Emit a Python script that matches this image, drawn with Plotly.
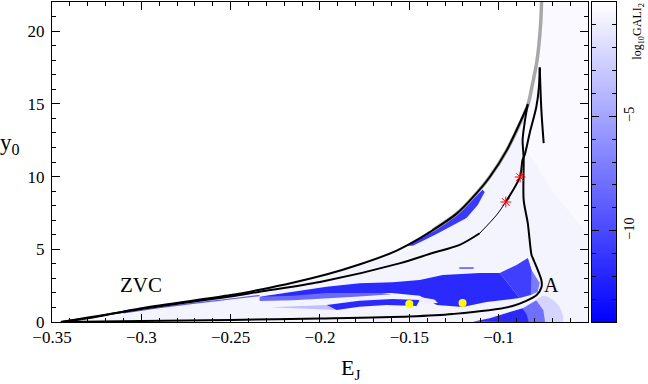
import plotly.graph_objects as go

# ZVC, black part then the grey part up to the top of the frame
zvc_E = [-0.345, -0.33, -0.30, -0.25, -0.2338, -0.2153, -0.196, -0.178, -0.159, -0.15, -0.137, -0.1235, -0.1146, -0.105, -0.0955, -0.0837]
zvc_y = [0.0, 0.25, 0.95, 1.85, 2.22, 2.7, 3.28, 3.95, 4.8, 5.35, 6.3, 7.45, 8.55, 9.97, 11.8, 14.9]
grey_E = [-0.137, -0.1235, -0.1146, -0.105, -0.0955, -0.0837, -0.0815, -0.0785, -0.0765, -0.076]
grey_y = [6.3, 7.45, 8.55, 9.97, 11.8, 14.9, 16.1, 18.0, 20.5, 22.0]

# family going out from the ZVC to the cusp
middle_E = [-0.345, -0.30, -0.25, -0.2338, -0.20, -0.155, -0.137, -0.1218, -0.1106]
middle_y = [0.0, 0.9, 1.75, 2.08, 2.75, 4.05, 4.74, 5.3, 6.1]
middle_thin_E = [-0.1106, -0.1012, -0.096]
middle_thin_y = [6.1, 7.35, 8.25]
upper_E = [-0.096, -0.088, -0.0867, -0.0854, -0.0826, -0.0789, -0.0775, -0.077]
upper_y = [8.25, 10.0, 11.1, 11.5, 13.0, 14.8, 16.1, 17.5]
tip_E = [-0.077, -0.0761, -0.0748]
tip_y = [17.5, 14.6, 12.3]

# long branch through A and back along the bottom
branch_E = [-0.0837, -0.0854, -0.0866, -0.086, -0.086, -0.0837, -0.0816, -0.0809, -0.0761, -0.076, -0.0787,
            -0.0922, -0.1258, -0.15, -0.20, -0.25, -0.30, -0.345]
branch_y = [15.0, 13.75, 12.5, 11.3, 8.4, 6.8, 4.6, 4.4, 2.89, 2.4, 1.86, 1.1, 0.55, 0.38, 0.24, 0.14, 0.07, 0.0]

star_E = [-0.096, -0.088]
star_y = [8.25, 9.97]
dot_E = [-0.15, -0.1202]
dot_y = [1.24, 1.3]

# GALI regions, outlines
pale_E = [-0.345, -0.30, -0.25, -0.196, -0.15, -0.1146, -0.105, -0.0955, -0.0837, -0.0785, -0.076, -0.05, -0.05]
pale_y = [0.0, 0.95, 1.85, 3.28, 5.35, 8.55, 9.97, 11.8, 14.9, 18.0, 22.0, 22.0, 0.0]
low_E = [-0.33, -0.25, -0.20, -0.15, -0.118, -0.105, -0.09, -0.07, -0.05, -0.05]
low_y = [0.0, 1.8, 3.0, 5.0, 7.5, 9.5, 13.0, 9.0, 6.0, 0.0]

main_E = [-0.2338, -0.2153, -0.1963, -0.1778, -0.1594, -0.1442, -0.1313, -0.1106, -0.0994, -0.0883, -0.1068, -0.1202,
          -0.1346, -0.1442, -0.16, -0.1778, -0.1963, -0.2153]
main_y = [1.74, 2.08, 2.43, 2.66, 2.73, 2.89, 3.23, 3.37, 3.37, 1.65, 1.37, 1.03, 1.17, 1.8, 2.0, 2.0, 2.0, 1.8]
speck_E = [-0.0994, -0.09, -0.0837, -0.0816, -0.082, -0.0883]
speck_y = [3.37, 3.92, 4.4, 3.57, 1.85, 1.65]
speck_edge_E = [-0.0837, -0.0816, -0.077, -0.0782, -0.082, -0.086]
speck_edge_y = [4.4, 3.57, 2.68, 2.06, 1.85, 3.0]
tail_E = [-0.2338, -0.2338, -0.215, -0.197, -0.178, -0.16, -0.178, -0.2153]
tail_y = [1.74, 1.45, 1.5, 1.6, 1.75, 1.9, 2.2, 2.0]
strip_E = [-0.1963, -0.178, -0.1594, -0.1442, -0.146, -0.1627, -0.178, -0.1907]
strip_y = [1.17, 1.46, 1.58, 1.51, 1.1, 1.17, 1.05, 0.82]
strip_tail_E = [-0.1963, -0.228, -0.1907]
strip_tail_y = [1.17, 1.02, 0.82]
gap_E = [-0.146, -0.136, -0.134, -0.143]
gap_y = [1.75, 1.55, 1.3, 1.25]
under_E = [-0.1146, -0.105, -0.0955, -0.0865, -0.0843, -0.083]
under_y = [0.02, 0.25, 0.62, 0.95, 0.5, 0.0]
under_mid_E = [-0.0865, -0.079, -0.075, -0.074, -0.083]
under_mid_y = [0.95, 1.5, 0.8, 0.0, 0.0]
under_light_E = [-0.079, -0.0743, -0.066, -0.0642, -0.074]
under_light_y = [1.5, 1.8, 1.05, 0.0, 0.0]
edge_E = [-0.1515, -0.137, -0.1235, -0.1146, -0.109, -0.1078, -0.1117, -0.118, -0.1275, -0.1347, -0.148]
edge_y = [5.25, 6.2, 7.35, 8.45, 9.1, 8.93, 8.04, 7.15, 6.53, 6.05, 5.25]
thin_E = [-0.31, -0.29, -0.27, -0.25, -0.2338]
thin_y = [0.62, 0.98, 1.3, 1.58, 1.82]
streak_E = [-0.122, -0.114]
streak_y = [3.71, 3.71]

x_ticks = [-0.35, -0.3, -0.25, -0.2, -0.15, -0.1]
y_ticks = [0, 5, 10, 15, 20]
bar_ticks = [0, -5, -10]
bar_z = [[-14, -14], [0, 0]]
bar_y = [-14, 0]

FONT = "Liberation Serif"
BLUES = [[0, "#0000ff"], [1, "#ffffff"]]


def region(x, y, color, shape="linear"):
    return go.Scatter(x=x, y=y, mode="lines", fill="toself", fillcolor=color,
                      line=dict(width=0, shape=shape), hoverinfo="skip", showlegend=False)


def curve(x, y, color="black", width=2):
    return go.Scatter(x=x, y=y, mode="lines", line=dict(color=color, width=width, shape="spline", smoothing=0.8),
                      hoverinfo="skip", showlegend=False)


def label(text, x, y, size, ref="x", angle=0):
    yref = "y" if ref == "x" else "paper"
    return dict(text=text, x=x, y=y, xref=ref, yref=yref, showarrow=False, textangle=angle,
                xanchor="center", yanchor="middle", font=dict(size=size))


fig = go.Figure()
fig.add_trace(region(pale_E, pale_y, "#f9f9ff"))
fig.add_trace(region(low_E, low_y, "#f4f4fe"))
fig.add_trace(region(under_light_E, under_light_y, "#d4d4fd", "spline"))
fig.add_trace(region(under_mid_E, under_mid_y, "#7070fd"))
fig.add_trace(region(under_E, under_y, "#2a2aff"))
fig.add_trace(region(speck_edge_E, speck_edge_y, "#7a7afc"))
fig.add_trace(region(speck_E, speck_y, "#3f3ffd"))
fig.add_trace(region(tail_E, tail_y, "#6a6afe"))
fig.add_trace(region(main_E, main_y, "#2a2aff"))
fig.add_trace(region(strip_tail_E, strip_tail_y, "#c0c0fd"))
fig.add_trace(region(strip_E, strip_y, "#2a2aff"))
fig.add_trace(region(gap_E, gap_y, "#eeeeff"))
fig.add_trace(region(edge_E, edge_y, "#3a3aff"))
fig.add_trace(curve(thin_E, thin_y, "#5a5aff", 1.2))
fig.add_trace(curve(streak_E, streak_y, "#2a2aff", 1.2))

fig.add_trace(curve(grey_E, grey_y, "#a8a8a8", 3.5))
fig.add_trace(curve(zvc_E, zvc_y))
fig.add_trace(curve(middle_E, middle_y))
fig.add_trace(curve(middle_thin_E, middle_thin_y, width=1))
fig.add_trace(curve(upper_E, upper_y))
fig.add_trace(curve(tip_E, tip_y))
fig.add_trace(curve(branch_E, branch_y))

fig.add_trace(go.Scatter(x=star_E, y=star_y, mode="markers", showlegend=False,
                         marker=dict(symbol="asterisk-open", size=9, color="#ff0000",
                                     line=dict(color="#ff0000", width=1))))
fig.add_trace(go.Scatter(x=dot_E, y=dot_y, mode="markers", showlegend=False,
                         marker=dict(symbol="circle", size=8, color="#ffff00")))

# colour bar drawn as its own little axes so it can have ticks on both sides
fig.add_trace(go.Heatmap(x=[0, 1], y=bar_y, z=bar_z, xaxis="x2", yaxis="y2", zsmooth="best",
                         colorscale=BLUES, zmin=-14, zmax=0, showscale=False, hoverinfo="skip"))

fig.update_layout(
    width=648,
    height=384,
    margin=dict(l=52, r=0, t=2, b=62),
    paper_bgcolor="white",
    plot_bgcolor="white",
    font=dict(family=FONT, size=17, color="black"),
    showlegend=False,
    xaxis=dict(
        domain=[0, 0.8993], range=[-0.35, -0.05], tickvals=x_ticks, ticks="inside", ticklen=8, tickwidth=1,
        tickcolor="black", showline=True, linecolor="black", linewidth=1, mirror="allticks", showgrid=False,
        zeroline=False, minor=dict(tickmode="linear", tick0=-0.35, dtick=0.01, ticks="inside", ticklen=4,
                                   tickwidth=1, tickcolor="black", showgrid=False),
    ),
    yaxis=dict(
        domain=[0, 1], range=[0, 22], tickvals=y_ticks, ticks="inside", ticklen=8, tickwidth=1, ticklabelstandoff=3,
        tickcolor="black", showline=True, linecolor="black", linewidth=1, mirror="allticks", showgrid=False,
        zeroline=False, minor=dict(tickmode="linear", tick0=0, dtick=1, ticks="inside", ticklen=4,
                                   tickwidth=1, tickcolor="black", showgrid=False),
    ),
    xaxis2=dict(domain=[0.906, 0.9463], range=[0, 1], anchor="y2", showticklabels=False, ticks="",
                showline=True, linecolor="black", linewidth=1, mirror=True, showgrid=False, zeroline=False),
    yaxis2=dict(
        domain=[0, 1], range=[-14, 0], anchor="x2", side="right", tickvals=bar_ticks, tickangle=-90,
        ticks="inside", ticklen=7, tickwidth=1, tickcolor="black", showline=True, linecolor="black", linewidth=1,
        mirror="allticks", showgrid=False, zeroline=False, tickfont=dict(size=14),
        minor=dict(tickmode="linear", tick0=0, dtick=1, ticks="inside", ticklen=4, tickwidth=1,
                   tickcolor="black", showgrid=False),
    ),
    annotations=[
        label("ZVC", -0.30, 2.55, 21),
        label("A", -0.0705, 2.55, 20),
        label("E<sub>J</sub>", 0.5, -0.147, 22, ref="paper"),
        label("y<sub>0</sub>", -0.07, 0.555, 23, ref="paper"),
        label("log<sub>10</sub>GALI<sub>2</sub>", 0.983, 0.91, 12, ref="paper", angle=-90),
    ],
)

# the page's default body margin would push the figure off by 8px
fig.write_html("out.html", config=dict(displayModeBar=False), post_script="document.body.style.margin = '0';")
